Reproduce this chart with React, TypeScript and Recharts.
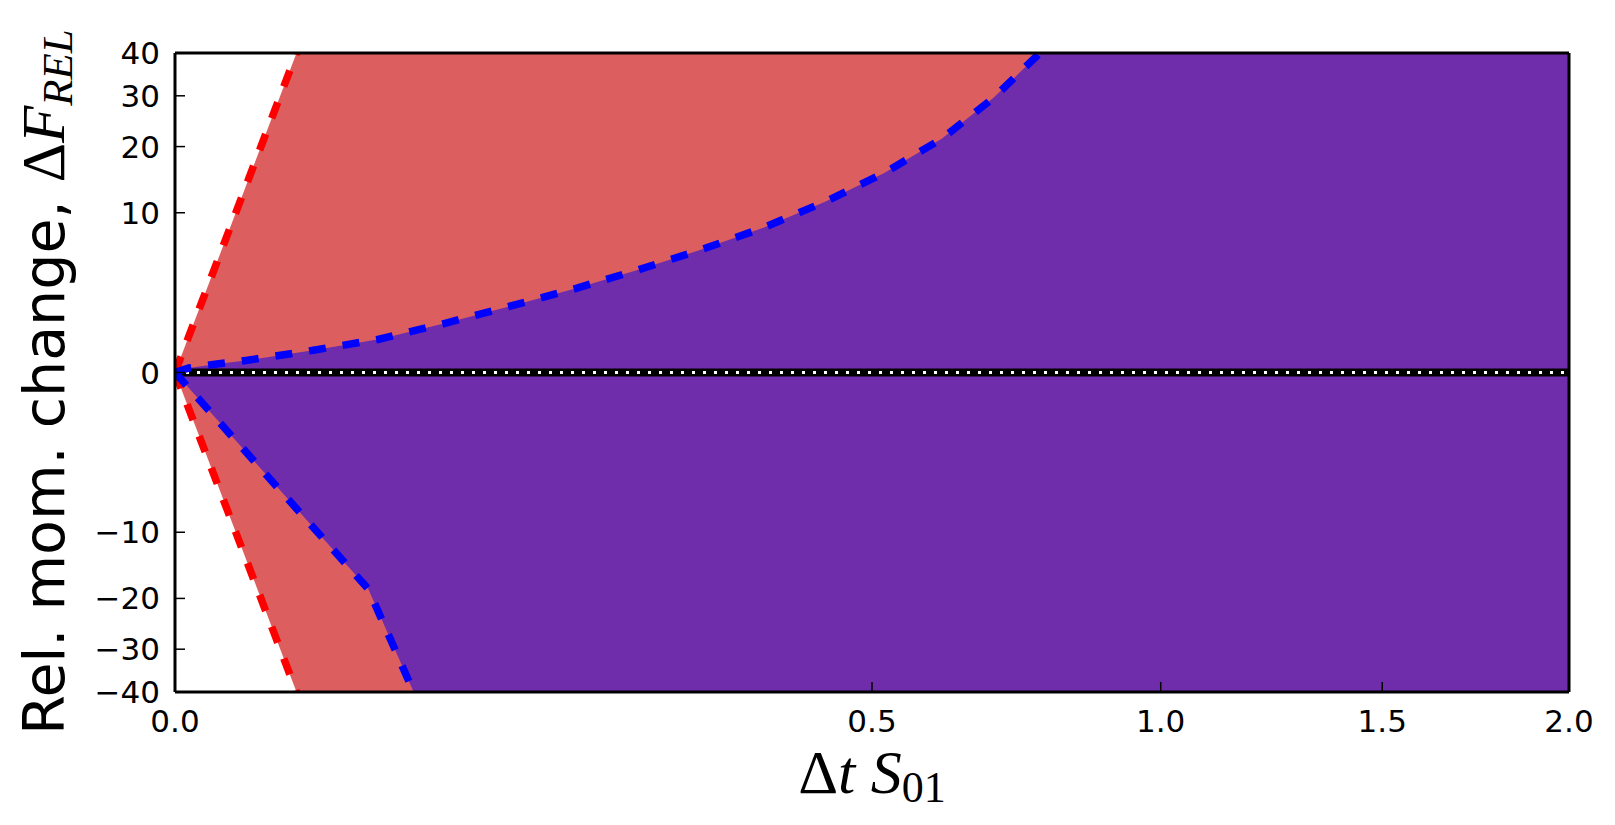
import { ComposedChart, Area, Line, XAxis, YAxis, Label } from 'recharts';

// axis ticks
const xTicks = [0, 0.5, 1, 1.5, 2];
const yTicks = [-40, -30, -20, -10, 0, 10, 20, 30, 40];

// outer bound (red, dashed)
const redX = [0, 0.0038, 0.0152, 2];
const redUpper = [0, 10, 40, 5300];
const redLower = [0, -10, -40, -5300];

// inner bound (blue, dashed)
const blueUpperX = [
  0, 0.0002, 0.0015, 0.0054, 0.0197, 0.0428, 0.0745, 0.1143, 0.1628, 0.2194, 0.2837,
  0.3562, 0.4349, 0.5178, 0.605, 0.689, 0.767, 0.85, 1.0, 1.5, 2.0,
];
const blueUpperY = [
  0, 0.008, 0.025, 0.059, 0.194, 0.433, 0.938, 1.7, 2.71, 4.09, 5.87,
  8.21, 11.42, 15.6, 21.4, 29.5, 39.6, 55, 85, 200, 400,
];
const blueLowerX = [0, 0.0385, 0.077, 2];
const blueLowerY = [0, -18.4, -62.3, -5000];

// zero reference
const zeroX = [0, 2];
const zeroY = [0, 0];

const toPoints = (xs: number[], ys: number[]) => xs.map((x, i) => ({ x, y: ys[i] }));

const redUpperData = toPoints(redX, redUpper);
const redLowerData = toPoints(redX, redLower);
const blueUpperData = toPoints(blueUpperX, blueUpperY);
const blueLowerData = toPoints(blueLowerX, blueLowerY);
const zeroData = toPoints(zeroX, zeroY);

const RED_FILL = '#dd5e5e';
const PURPLE_FILL = '#6f2dab';

const fmtX = (v: number) => v.toFixed(1);
const fmtY = (v: number) => (v < 0 ? '\u2212' + Math.abs(v) : String(v));

const tickFont = { fill: '#000', fontSize: 31, fontFamily: 'DejaVu Sans' };
const frame = { stroke: '#000', strokeWidth: 3 };
const tickLine = { stroke: '#000', strokeWidth: 1.5 };

const renderXLabel = () => (
  <text x={872} y={793} textAnchor="middle" fontFamily="Liberation Serif" fontSize={62} fill="#000">
    <tspan>Δ</tspan>
    <tspan fontStyle="italic">t</tspan>
    <tspan>  </tspan>
    <tspan fontStyle="italic">S</tspan>
    <tspan fontSize={44} dy={9}>01</tspan>
  </text>
);

const renderYLabel = () => (
  <text
    x={64}
    y={382}
    transform="rotate(-90, 64, 382)"
    textAnchor="middle"
    fontFamily="DejaVu Sans"
    fontSize={57}
    fill="#000"
  >
    <tspan>Rel. mom. change, </tspan>
    <tspan fontFamily="Liberation Serif" fontSize={61}>Δ</tspan>
    <tspan fontFamily="Liberation Serif" fontStyle="italic" fontSize={61}>F</tspan>
    <tspan fontFamily="Liberation Serif" fontStyle="italic" fontSize={43} dy={8}>REL</tspan>
  </text>
);

export default function App() {
  return (
    <div style={{ position: 'absolute', left: 0, top: 0, width: 1615, height: 825, background: '#fff' }}>
      <ComposedChart width={1615} height={825} margin={{ top: 52, right: 45, bottom: 0, left: 15 }}>
        <Area data={redUpperData} dataKey="y" baseValue={0} fill={RED_FILL} fillOpacity={1} stroke="none" isAnimationActive={false} />
        <Area data={redLowerData} dataKey="y" baseValue={0} fill={RED_FILL} fillOpacity={1} stroke="none" isAnimationActive={false} />
        <Area data={blueUpperData} dataKey="y" baseValue={0} fill={PURPLE_FILL} fillOpacity={1} stroke="none" isAnimationActive={false} />
        <Area data={blueLowerData} dataKey="y" baseValue={0} fill={PURPLE_FILL} fillOpacity={1} stroke="none" isAnimationActive={false} />

        <Line data={zeroData} xAxisId="top" yAxisId="right" dataKey="y" stroke="#000" strokeWidth={8} dot={false} activeDot={false} isAnimationActive={false} />
        <Line data={zeroData} xAxisId="top" yAxisId="right" dataKey="y" stroke="#fff" strokeWidth={3} strokeDasharray="3 8" dot={false} activeDot={false} isAnimationActive={false} />

        <Line data={redUpperData} dataKey="y" stroke="#ff0000" strokeWidth={7.5} strokeDasharray="17 17" dot={false} activeDot={false} isAnimationActive={false} />
        <Line data={redLowerData} dataKey="y" stroke="#ff0000" strokeWidth={7.5} strokeDasharray="17 17" dot={false} activeDot={false} isAnimationActive={false} />
        <Line data={blueUpperData} dataKey="y" stroke="#0000ff" strokeWidth={7.5} strokeDasharray="17 17" dot={false} activeDot={false} isAnimationActive={false} />
        <Line data={blueLowerData} dataKey="y" stroke="#0000ff" strokeWidth={7.5} strokeDasharray="17 17" dot={false} activeDot={false} isAnimationActive={false} />

        <XAxis
          type="number"
          dataKey="x"
          scale="sqrt"
          domain={[0, 2]}
          ticks={xTicks}
          interval={0}
          allowDataOverflow
          height={133}
          tickFormatter={fmtX}
          tickSize={-10}
          tickMargin={28}
          axisLine={frame}
          tickLine={tickLine}
          tick={tickFont}
        >
          <Label content={renderXLabel} />
        </XAxis>
        <XAxis
          xAxisId="top"
          orientation="top"
          type="number"
          dataKey="x"
          scale="sqrt"
          domain={[0, 2]}
          ticks={xTicks}
          interval={0}
          allowDataOverflow
          height={1}
          tickSize={-10}
          axisLine={frame}
          tickLine={tickLine}
          tick={false}
        />
        <YAxis
          type="number"
          scale="sqrt"
          domain={[-40, 40]}
          ticks={yTicks}
          interval={0}
          allowDataOverflow
          width={160}
          tickFormatter={fmtY}
          tickSize={-10}
          tickMargin={25}
          axisLine={frame}
          tickLine={tickLine}
          tick={tickFont}
        >
          <Label content={renderYLabel} />
        </YAxis>
        <YAxis
          yAxisId="right"
          orientation="right"
          type="number"
          scale="sqrt"
          domain={[-40, 40]}
          ticks={yTicks}
          interval={0}
          allowDataOverflow
          width={1}
          tickSize={-10}
          axisLine={frame}
          tickLine={tickLine}
          tick={false}
        />
      </ComposedChart>
    </div>
  );
}
